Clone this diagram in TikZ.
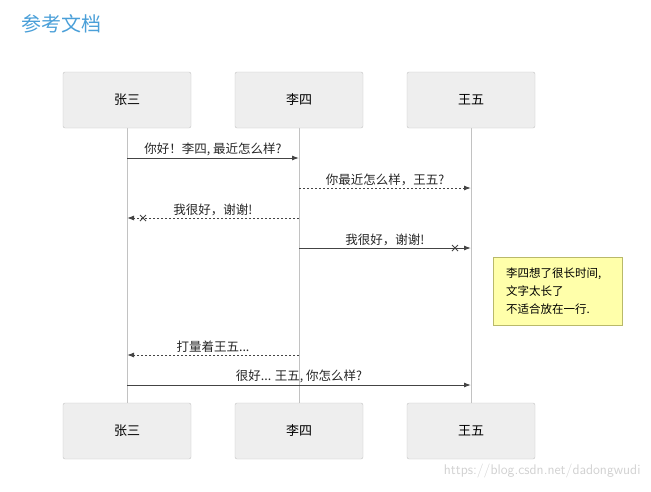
\documentclass[tikz,border=0pt]{standalone}
\usepackage{fontspec}
\setmainfont{Noto Sans CJK SC}
\usetikzlibrary{arrows.meta}
\definecolor{boxfill}{HTML}{EEEEEE}
\definecolor{boxdraw}{HTML}{C2C2C2}
\definecolor{notefill}{HTML}{FFFFAA}
\definecolor{notedraw}{HTML}{B9B96A}
\definecolor{titleblue}{HTML}{4A9FD8}
\definecolor{msg}{HTML}{444444}
\begin{document}
\begin{tikzpicture}[x=1pt,y=-1pt,
  actor/.style={draw=boxdraw,fill=boxfill,rounded corners=2pt,minimum width=128pt,minimum height=56pt,font=\fontsize{13}{15}\selectfont,inner sep=0pt},
  life/.style={draw=boxdraw,line width=0.8pt},
  msgline/.style={draw=msg,line width=1pt,-{Latex[length=7pt,width=5pt]}},
  dashmsg/.style={msgline,dash pattern=on 2pt off 2pt},
  lbl/.style={font=\fontsize{12.5}{14}\selectfont,text=black!85,inner sep=1pt,anchor=south},
  crossmk/.style={draw=msg,line width=0.9pt}]
\useasboundingbox (0,0) rectangle (651,491);
\node[anchor=west,text=titleblue,font=\fontsize{20}{24}\selectfont] (title) at (18,24) {参考文档};
\foreach \n/\x/\t in {a/127/张三,b/299/李四,c/471/王五}{
  \draw[life] (\x,128) -- (\x,403);
  \node[actor] (\n top) at (\x,100) {\t};
  \node[actor] (\n bot) at (\x,431) {\t};
}
\coordinate (a1) at (127,158); \coordinate (b1) at (299,158);
\draw[msgline] (a1) -- (b1) node[lbl,midway,above=1pt] {你好！李四, 最近怎么样?};
\coordinate (b2) at (299,188); \coordinate (c2) at (471,188);
\draw[dashmsg] (b2) -- (c2) node[lbl,midway,above=1pt] {你最近怎么样，王五?};
\coordinate (b3) at (299,218); \coordinate (a3) at (127,218);
\draw[dashmsg] (b3) -- (a3) node[lbl,midway,above=1pt] {我很好，谢谢!};
\draw[crossmk] (140,215) -- (146,221) (140,221) -- (146,215);
\coordinate (b4) at (299,248); \coordinate (c4) at (471,248);
\draw[msgline] (b4) -- (c4) node[lbl,midway,above=1pt] {我很好，谢谢!};
\draw[crossmk] (452,245) -- (458,251) (452,251) -- (458,245);
\node[draw=notedraw,fill=notefill,anchor=north west,minimum width=129pt,minimum height=68pt,inner sep=0pt] (note) at (493,257) {};
\node[anchor=north west,align=left,font=\fontsize{11.5}{18}\selectfont,inner sep=0pt] (notetxt) at (506,268) {李四想了很长时间,\\文字太长了\\不适合放在一行.};
\coordinate (b5) at (299,355); \coordinate (a5) at (127,355);
\draw[dashmsg] (b5) -- (a5) node[lbl,midway,above=1pt] {打量着王五...};
\coordinate (a6) at (127,385); \coordinate (c6) at (471,385);
\draw[msgline] (a6) -- (c6) node[lbl,midway,above=1pt] {很好... 王五, 你怎么样?};
\node[anchor=east,text=black!18,font=\fontsize{14}{16}\selectfont\sffamily] (wm) at (644,471) {https://blog.csdn.net/dadongwudi};
\end{tikzpicture}
\end{document}
